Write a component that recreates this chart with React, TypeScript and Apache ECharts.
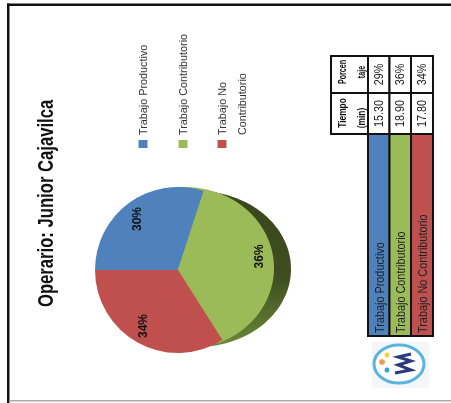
import React, { useEffect, useRef } from "react";
import * as echarts from "echarts";

const title = "Operario: Junior Cajavilca";
const categories = ["Trabajo Productivo", "Trabajo Contributorio", "Trabajo No Contributorio"];
const chartPercent = [30, 36, 34];
const minutes = ["15.30", "18.90", "17.80"];
const tablePercent = ["29%", "36%", "34%"];
const colors = ["#4f81bd", "#9bbb59", "#c0504d"];
const legendLines = [["Trabajo Productivo"], ["Trabajo Contributorio"], ["Trabajo No", "Contributorio"]];
const headerTiempo = ["Tiempo", "(min)"];
const headerPorcen = ["Porcen", "taje"];

const FONT = "'Liberation Sans', sans-serif";
const R90 = Math.PI / 2;

function vtext(x: number, y: number, text: string, size: number, squeeze: number, fill = "#222", weight = "normal", align = "left") {
  return {
    type: "text", x, y, rotation: R90, scaleX: squeeze, z: 20,
    style: { text, fontFamily: FONT, fontSize: size, fontWeight: weight, fill, align, verticalAlign: "middle" },
  };
}
function rect(x: number, y: number, w: number, h: number, fill: string, stroke?: string, lw = 0, z = 5) {
  return { type: "rect", z, shape: { x, y, width: w, height: h }, style: { fill, stroke, lineWidth: lw } };
}

export default function App() {
  const ref = useRef<HTMLDivElement>(null);
  useEffect(() => {
    const chart = echarts.init(ref.current!, null, { renderer: "svg" });
    const cols = [368, 389.5, 411, 433];
    const colX = [379, 400, 422];
    const g: any[] = [];
    // frame
    g.push(rect(7, 3.5, 444, 2.5, "#111"));
    g.push(rect(7, 3.5, 2.5, 399.5, "#111"));
    g.push(rect(9, 400, 442, 1.5, "#aaa"));
    // shadow crescent + bulge of the green slice
    g.push({
      type: "ellipse", z: 1, shape: { cx: 197, cy: 269, rx: 94, ry: 78 },
      style: {
        fill: new echarts.graphic.LinearGradient(0, 0, 0, 1, [
          { offset: 0, color: "#3a461e" }, { offset: 0.55, color: "#3f4d20" }, { offset: 1, color: "#6a8a38" },
        ]),
      },
    });
    g.push({ type: "ellipse", z: 1.5, shape: { cx: 185, cy: 268, rx: 89, ry: 81 }, style: { fill: colors[1] } });
    // legend
    const lx = [143, 183, 222];
    legendLines.forEach((lines, i) => {
      g.push(rect(lx[i] - 4.5, 140, 9, 8, colors[i]));
      lines.forEach((t, j) => g.push(vtext(lx[i] + j * 20, 135, t, 11.5, 0.94, "#333")));
    });
    // title
    g.push(vtext(45, 307, title, 22.5, 0.74, "#111", "bold"));
    // table
    categories.forEach((c, i) => {
      g.push(rect(cols[i], 134, cols[i + 1] - cols[i], 202, colors[i], "#111", 2));
      g.push(vtext(colX[i], 333, c, 12.5, 0.87, "#222"));
      g.push(rect(cols[i], 93, cols[i + 1] - cols[i], 41, "#fff", "#111", 2));
      g.push(rect(cols[i], 56, cols[i + 1] - cols[i], 37, "#fff", "#111", 2));
      g.push(vtext(colX[i], 113.5, minutes[i], 12, 0.9, "#222", "normal", "center"));
      g.push(vtext(colX[i], 74.5, tablePercent[i], 12, 0.9, "#222", "normal", "center"));
    });
    g.push(rect(331, 93, 37, 41, "#fff", "#111", 2));
    g.push(rect(331, 56, 37, 37, "#fff", "#111", 2));
    const headY = [[113, 118], [72, 72]];
    const headSqueeze = [0.8, 0.68];
    [headerTiempo, headerPorcen].forEach((lines, k) =>
      lines.forEach((t, j) => g.push(vtext(342 + j * 19, headY[k][j], t, 10.5, headSqueeze[k], "#111", "bold", "center")))
    );
    // logo
    g.push(rect(372, 342, 57, 46, "#f4f7fa"));
    g.push({ type: "ellipse", z: 6, shape: { cx: 399, cy: 364, rx: 25, ry: 19 }, style: { fill: "#fff", stroke: "#5bb3e0", lineWidth: 3 } });
    g.push({ type: "polyline", z: 7, shape: { points: [[395, 373], [411, 370], [398, 365], [411, 361], [398, 357], [411, 354]] }, style: { fill: "none", stroke: "#2a3a7a", lineWidth: 3 } });
    g.push({ type: "circle", z: 7, shape: { cx: 382, cy: 362, r: 3 }, style: { fill: "#f0a050" } });
    g.push({ type: "circle", z: 7, shape: { cx: 387, cy: 355, r: 2.5 }, style: { fill: "#f5d040" } });
    g.push({ type: "circle", z: 7, shape: { cx: 387, cy: 370, r: 2.5 }, style: { fill: "#3aa0d8" } });

    const offsets = [[15, -15], [8, 37], [-17, -14]];
    chart.setOption({
      animation: false,
      backgroundColor: "#fff",
      graphic: g,
      series: [{
        type: "pie",
        center: [178, 270],
        radius: 83,
        startAngle: 180,
        z: 3,
        silent: true,
        data: categories.map((name, i) => ({
          name,
          value: chartPercent[i],
          itemStyle: { color: colors[i] },
          label: { offset: offsets[i] },
        })),
        labelLine: { show: false },
        label: {
          show: true, position: "inside", rotate: 90, formatter: "{c}%",
          fontFamily: FONT, fontSize: 12, fontWeight: "bold", color: "#111",
        },
      }],
    });
    return () => chart.dispose();
  }, []);
  return (
    <div ref={ref} style={{ position: "fixed", left: 0, top: 0, width: 451, height: 403, filter: "blur(0.7px)" }} />
  );
}
